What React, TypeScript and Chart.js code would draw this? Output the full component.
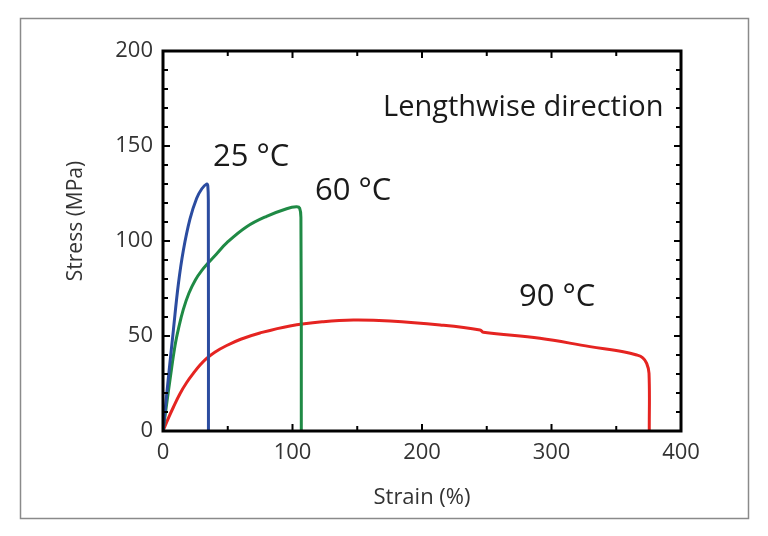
import React, { useEffect, useRef } from "react";
import { Chart, registerables } from "chart.js";

Chart.register(...registerables);

// ---- data ----
const strain25 = [0, 4, 8, 11.8, 15.7, 20.8, 26, 30, 33.7, 34.6, 35, 35.1];
const stress25 = [0, 27, 53, 77, 95, 111.5, 122.5, 127.5, 130, 129, 120, 0];

const strain60 = [0, 2.8, 5.4, 9.3, 12, 15.7, 20, 25, 30, 35, 42, 49.2, 64.6, 80, 95.5, 103, 105.5, 106.5, 106.8];
const stress60 = [0, 14, 27, 45, 54, 64, 72.5, 79.5, 84.5, 88.5, 93.7, 99, 107.5, 113, 117, 118, 117.3, 112, 0];

const strain90 = [0, 4, 8, 13, 18.3, 23.4, 28.6, 33.7, 40, 49.2, 60, 74.9, 98, 123.8, 147, 175.3, 214, 244.8, 247.3, 291, 329.7, 355.4, 365.8, 370.5, 373.5, 375.3, 375.5];
const stress90 = [0, 6.5, 12.5, 19.5, 25.5, 30.3, 34.7, 38.2, 41.5, 45, 48.3, 51.6, 55.3, 57.5, 58.4, 57.9, 55.8, 53.2, 52, 48.8, 44.4, 41.7, 40, 38.5, 35.6, 30.4, 0];

const xTicks = [0, 100, 200, 300, 400];
const yTicks = [0, 50, 100, 150, 200];

const labelTexts = ["25 °C", "60 °C", "90 °C", "Lengthwise direction"];
const labelStrain = [38.6, 117.4, 274.9, 169.9];
const labelStress = [144.2, 126.3, 70.5, 170];

const xTitle = "Strain (%)";
const yTitle = "Stress (MPa)";

const FONT = "'Open Sans', 'DejaVu Sans', sans-serif";

function toPoints(xs: number[], ys: number[]) {
  return xs.map((x, i) => ({ x, y: ys[i] }));
}

const decorPlugin = {
  id: "decor",
  beforeDraw(chart: any) {
    const ctx = chart.ctx;
    ctx.save();
    ctx.strokeStyle = "#8a8a8a";
    ctx.lineWidth = 1.5;
    ctx.strokeRect(20.5, 18.5, 728, 500);
    ctx.restore();
  },
  afterDatasetsDraw(chart: any) {
    const ctx = chart.ctx;
    const { left, right, top, bottom } = chart.chartArea;
    const xs = chart.scales.x;
    const ys = chart.scales.y;
    ctx.save();
    ctx.strokeStyle = "#000";
    ctx.lineWidth = 2;
    ctx.beginPath();
    for (let v = 0; v <= 200; v += 10) {
      const p = ys.getPixelForValue(v);
      const len = v % 50 === 0 ? 7 : 5;
      ctx.moveTo(left, p);
      ctx.lineTo(left + len, p);
      ctx.moveTo(right, p);
      ctx.lineTo(right - len, p);
    }
    for (let v = 0; v <= 400; v += 50) {
      const p = xs.getPixelForValue(v);
      const len = v % 100 === 0 ? 7 : 5;
      ctx.moveTo(p, bottom);
      ctx.lineTo(p, bottom - len);
      ctx.moveTo(p, top);
      ctx.lineTo(p, top + len);
    }
    ctx.stroke();
    ctx.lineWidth = 3;
    ctx.strokeRect(left, top, right - left, bottom - top);

    // annotations
    ctx.fillStyle = "#1a1a1a";
    ctx.textBaseline = "middle";
    ctx.textAlign = "left";
    labelTexts.forEach((t, i) => {
      ctx.font = i === 3 ? `29px ${FONT}` : `500 31px ${FONT}`;
      ctx.fillText(t, xs.getPixelForValue(labelStrain[i]), ys.getPixelForValue(labelStress[i]));
    });

    // y title
    ctx.save();
    ctx.translate(76, 221);
    ctx.rotate(-Math.PI / 2);
    ctx.textAlign = "center";
    ctx.fillStyle = "#333";
    ctx.font = `21px ${FONT}`;
    ctx.fillText(yTitle, 0, 0);
    ctx.restore();
    ctx.restore();
  },
};

export default function App() {
  const ref = useRef<HTMLCanvasElement | null>(null);
  useEffect(() => {
    document.body.style.margin = "0";
    const canvas = ref.current!;
    const chart = new Chart(canvas, {
      type: "line",
      data: {
        datasets: [
          { label: "25 °C", data: toPoints(strain25, stress25), borderColor: "#2b4ca0" },
          { label: "60 °C", data: toPoints(strain60, stress60), borderColor: "#1f8a45" },
          { label: "90 °C", data: toPoints(strain90, stress90), borderColor: "#e52421" },
        ].map((d) => ({
          ...d,
          borderWidth: 3,
          pointRadius: 0,
          fill: false,
          tension: 0.4,
        })),
      },
      options: {
        responsive: false,
        animation: false,
        devicePixelRatio: 1,
        layout: { padding: { left: 0, top: 51, right: 87, bottom: 0 } },
        plugins: { legend: { display: false }, tooltip: { enabled: false } },
        scales: {
          x: {
            type: "linear",
            min: 0,
            max: 400,
            afterFit: (s: any) => {
              s.height = 105;
            },
            afterBuildTicks: (s: any) => {
              s.ticks = xTicks.map((v) => ({ value: v }));
            },
            grid: { display: false, drawTicks: false },
            border: { display: false },
            ticks: { font: { family: FONT, size: 22 }, color: "#333", padding: 9, maxRotation: 0 },
            title: {
              display: true,
              text: xTitle,
              font: { family: FONT, size: 22 },
              color: "#333",
              padding: { top: 0, bottom: 25 },
            },
          },
          y: {
            type: "linear",
            min: 0,
            max: 200,
            afterFit: (s: any) => {
              s.width = 163;
            },
            afterBuildTicks: (s: any) => {
              s.ticks = yTicks.map((v) => ({ value: v }));
            },
            grid: { display: false, drawTicks: false },
            border: { display: false },
            ticks: { font: { family: FONT, size: 22 }, color: "#333", padding: 10 },
          },
        },
      },
      plugins: [decorPlugin],
    });
    return () => chart.destroy();
  }, []);
  return <canvas ref={ref} width={768} height={536} style={{ display: "block" }} />;
}
